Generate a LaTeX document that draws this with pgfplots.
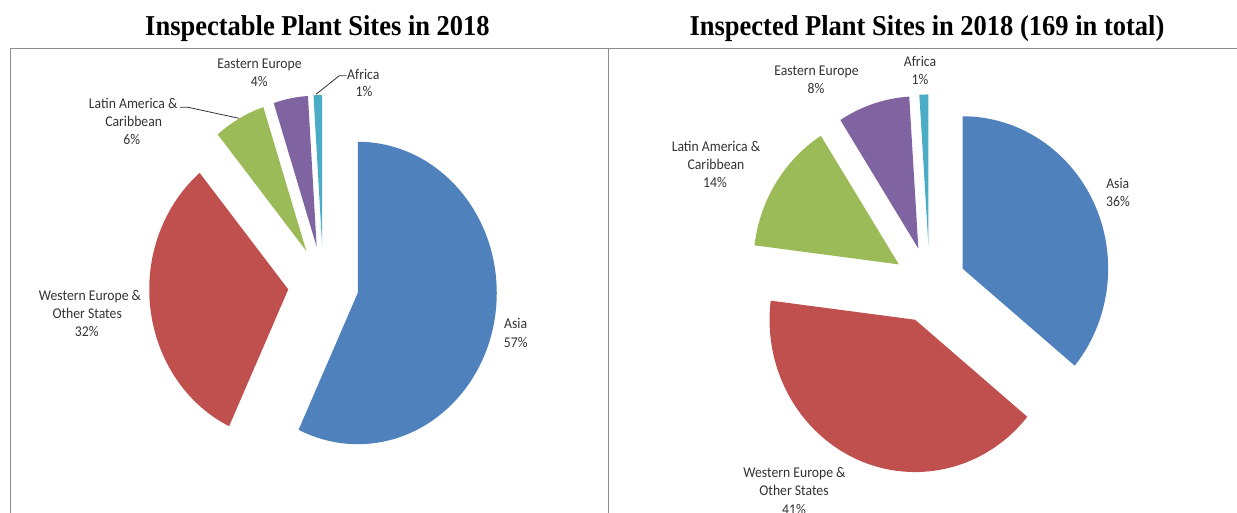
\documentclass[border=0pt]{standalone}
\usepackage{pgfplots}
\pgfplotsset{compat=1.18}
\usepackage{fontspec}
\setmainfont{Liberation Serif}
\newfontfamily\lab{Carlito}
\definecolor{cAsia}{HTML}{4F81BD}
\definecolor{cWest}{HTML}{C0504D}
\definecolor{cLatin}{HTML}{9BBB59}
\definecolor{cEast}{HTML}{8064A2}
\definecolor{cAfrica}{HTML}{4BACC6}
\definecolor{labc}{HTML}{333333}
\definecolor{framec}{HTML}{8C8C8C}
% #1 cx, #2 cy, #3 rx, #4 ry, #5 explode, #6 cumulative start (%), #7 share (%), #8 colour
\newcommand\slice[8]{%
  \pgfmathsetmacro\aA{90-3.6*#6}%
  \pgfmathsetmacro\aB{90-3.6*(#6+#7)}%
  \pgfmathsetmacro\aM{(\aA+\aB)/2}%
  \pgfmathsetmacro\vx{#1+#5*#3*cos(\aM)}%
  \pgfmathsetmacro\vy{#2-#5*#4*sin(\aM)}%
  \edef\tmp{\noexpand\fill[#8] (axis cs:\vx,\vy) -- ++(\aA:#3pt and #4pt)
    arc[start angle=\aA, end angle=\aB, x radius=#3pt, y radius=#4pt] -- cycle;}%
  \tmp}
\newcommand\lbl[3]{\node[anchor=base, text=labc, inner sep=0pt,
   font=\lab\fontsize{13.7}{16}\selectfont] at (axis cs:#1,#2) {\scalebox{1}[1.086]{#3}};}
\begin{document}
\begin{tikzpicture}
\begin{axis}[x=1pt, y=1pt, xmin=0, xmax=1237, ymin=0, ymax=513, y dir=reverse,
  hide axis, scale only axis]
% frame
\draw[framec, line width=1.5pt] (axis cs:10.3,520) -- (axis cs:10.3,48.7) -- (axis cs:1240,48.7);
\draw[framec, line width=1.5pt] (axis cs:608.7,48.7) -- (axis cs:608.7,520);
% titles
\node[anchor=base, inner sep=0pt, font=\bfseries\fontsize{26.5}{30}\selectfont] at (axis cs:317.5,35.5)
  {\scalebox{1}[1.086]{Inspectable Plant Sites in 2018}};
\node[anchor=base, inner sep=0pt, font=\bfseries\fontsize{26.5}{30}\selectfont] at (axis cs:927,35.5)
  {\scalebox{1}[1.086]{Inspected Plant Sites in 2018 (169 in total)}};
% left pie: Asia 57, Western Europe 32, Latin America 6, Eastern Europe 4, Africa 1
\slice{323.3}{284.6}{139}{151.2}{0.254}{0}{57}{cAsia}
\slice{323.3}{284.6}{139}{151.2}{0.254}{57}{32}{cWest}
\slice{323.3}{284.6}{139}{151.2}{0.254}{89}{6}{cLatin}
\slice{323.3}{284.6}{139}{151.2}{0.254}{95}{4}{cEast}
\slice{323.3}{284.6}{139}{151.2}{0.254}{99}{1}{cAfrica}
% right pie: Asia 36, Western Europe 41, Latin America 14, Eastern Europe 8, Africa 1
\slice{929.6}{284.8}{145.6}{152.3}{0.25}{0}{36}{cAsia}
\slice{929.6}{284.8}{145.6}{152.3}{0.25}{36}{41}{cWest}
\slice{929.6}{284.8}{145.6}{152.3}{0.25}{77}{14}{cLatin}
\slice{929.6}{284.8}{145.6}{152.3}{0.25}{91}{8}{cEast}
\slice{929.6}{284.8}{145.6}{152.3}{0.25}{99}{1}{cAfrica}
% leader lines
\draw[labc, line width=0.8pt] (axis cs:346.7,75.7) -- (axis cs:339.3,75.7) -- (axis cs:316,94.3);
\draw[labc, line width=0.8pt] (axis cs:180,107.3) -- (axis cs:188,107.3) -- (axis cs:239,118.3);
% left labels
\lbl{259.5}{68.8}{Eastern Europe}
\lbl{259.3}{86.8}{4\%}
\lbl{363.3}{79.1}{Africa}
\lbl{364}{96.8}{1\%}
\lbl{133.2}{108.1}{Latin America \&}
\lbl{133.7}{126.1}{Caribbean}
\lbl{131.7}{144.1}{6\%}
\lbl{90}{300.5}{Western Europe \&}
\lbl{87.2}{318.5}{Other States}
\lbl{86.7}{336.5}{32\%}
\lbl{515.7}{328.8}{Asia}
\lbl{515.8}{347.0}{57\%}
% right labels
\lbl{816.5}{75.8}{Eastern Europe}
\lbl{816}{93.8}{8\%}
\lbl{920}{66.8}{Africa}
\lbl{920}{84.6}{1\%}
\lbl{716}{151.8}{Latin America \&}
\lbl{716}{169.8}{Caribbean}
\lbl{715}{188}{14\%}
\lbl{1117.8}{188.8}{Asia}
\lbl{1118}{207}{36\%}
\lbl{794.5}{477.8}{Western Europe \&}
\lbl{794}{495.8}{Other States}
\lbl{794}{514}{41\%}
\end{axis}
\pgfresetboundingbox
\path (current axis.south west) rectangle (current axis.north east);
\end{tikzpicture}
\end{document}
